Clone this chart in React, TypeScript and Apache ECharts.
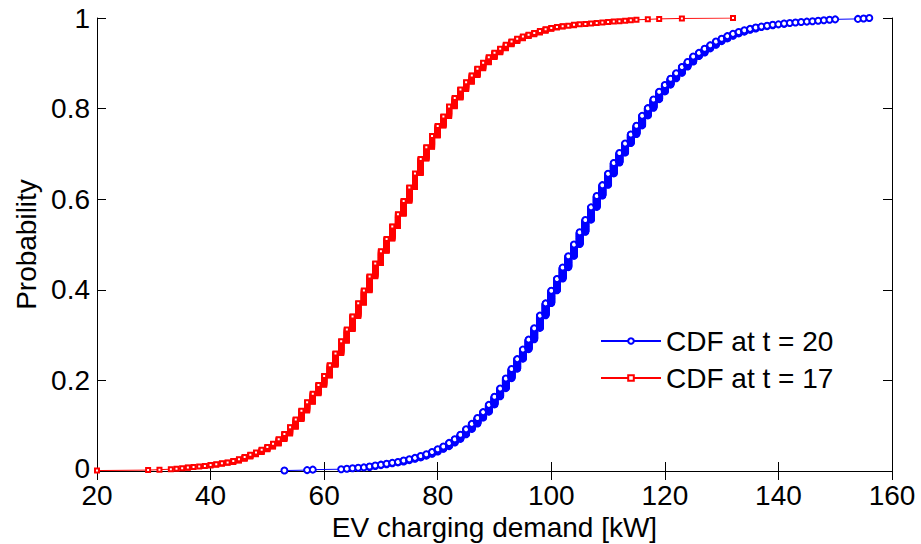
import React, { useEffect, useRef } from "react";
import * as echarts from "echarts";

// Axis ticks
const xTicks = [20, 40, 60, 80, 100, 120, 140, 160];
const yTicks = [0, 0.2, 0.4, 0.6, 0.8, 1];

// CDF at t = 17 : number of samples at each demand level [kW]
const redX = [
  20, 29, 31, 33, 34, 35, 36, 37, 38, 39, 40, 41, 42, 43, 44, 45, 46, 47, 48, 49,
  50, 51, 52, 53, 54, 55, 56, 57, 58, 59, 60, 61, 62, 63, 64, 65, 66, 67, 68, 69,
  70, 71, 72, 73, 74, 75, 76, 77, 78, 79, 80, 81, 82, 83, 84, 85, 86, 87, 88, 89,
  90, 91, 92, 93, 94, 95, 96, 97, 98, 99, 100, 101, 102, 103, 104, 105, 106, 107,
  108, 109, 110, 111, 112, 113, 114, 115, 117, 119, 123, 132,
];
const redCount = [
  1, 1, 1, 1, 1, 1, 2, 1, 1, 1, 2, 2, 2, 2, 3, 4, 5, 5, 5, 6,
  6, 7, 10, 12, 15, 17, 19, 19, 19, 19, 20, 24, 26, 27, 26, 29, 29, 28, 31, 29,
  27, 27, 28, 27, 29, 30, 31, 32, 26, 25, 22, 21, 22, 19, 19, 16, 15, 15, 13, 12,
  10, 9, 9, 7, 6, 5, 4, 4, 4, 4, 3, 2, 2, 1, 2, 1, 1, 1,
  1, 1, 1, 1, 1, 1, 1, 1, 1, 1, 1, 1,
];

// CDF at t = 20 : number of samples at each demand level [kW]
const blueX = [
  53, 57, 58, 63, 64, 65, 66, 67, 68, 69, 70, 71, 72, 73, 74, 75, 76, 77, 78, 79,
  80, 81, 82, 83, 84, 85, 86, 87, 88, 89, 90, 91, 92, 93, 94, 95, 96, 97, 98, 99,
  100, 101, 102, 103, 104, 105, 106, 107, 108, 109, 110, 111, 112, 113, 114, 115,
  116, 117, 118, 119, 120, 121, 122, 123, 124, 125, 126, 127, 128, 129, 130, 131,
  132, 133, 134, 135, 136, 137, 138, 139, 140, 141, 142, 143, 144, 145, 146, 147,
  148, 149, 150, 154, 155, 156,
];
const blueCount = [
  1, 1, 1, 1, 1, 1, 1, 1, 2, 2, 2, 2, 2, 2, 3, 3, 3, 4, 4, 5,
  6, 6, 8, 8, 10, 12, 12, 13, 13, 16, 18, 18, 22, 21, 22, 21, 22, 25, 28, 27,
  28, 26, 25, 25, 26, 27, 27, 28, 25, 24, 25, 24, 22, 21, 20, 19,
  22, 17, 19, 17, 15, 14, 12, 14, 11, 12, 8, 9, 8, 8, 6, 6,
  5, 4, 4, 3, 3, 2, 2, 2, 1, 2, 1, 1, 1, 1, 1, 1,
  1, 1, 1, 1, 1, 1,
];

const seriesNames = ["CDF at t = 20", "CDF at t = 17"];

// empirical CDF: one point per sample, sorted
function ecdf(xs: number[], counts: number[]): number[][] {
  const total = counts.reduce((a, b) => a + b, 0);
  const pts: number[][] = [];
  let c = 0;
  xs.forEach((x, i) => {
    for (let j = 0; j < counts[i]; j++) {
      c += 1;
      pts.push([x, c / total]);
    }
  });
  return pts;
}

const FONT = "'Liberation Sans', Arial, Helvetica, sans-serif";

export default function App() {
  const ref = useRef<HTMLDivElement>(null);
  useEffect(() => {
    if (!ref.current) return;
    const chart = echarts.init(ref.current, undefined, { renderer: "svg" });
    const axisLine = { show: true, lineStyle: { color: "#000", width: 1 } };
    const tick = { show: true, inside: true, length: 9, lineStyle: { color: "#000", width: 1 } };
    const xCommon = {
      type: "value" as const,
      min: xTicks[0],
      max: xTicks[xTicks.length - 1],
      interval: xTicks[1] - xTicks[0],
      splitLine: { show: false },
      axisLine,
      axisTick: tick,
    };
    const yCommon = {
      type: "value" as const,
      min: yTicks[0],
      max: yTicks[yTicks.length - 1],
      interval: yTicks[1] - yTicks[0],
      splitLine: { show: false },
      axisLine,
      axisTick: tick,
    };
    chart.setOption({
      animation: false,
      backgroundColor: "#fff",
      textStyle: { fontFamily: FONT },
      grid: { left: 97, right: 29, top: 18, bottom: 73, containLabel: false, outerBoundsMode: "none" },
      xAxis: [
        {
          ...xCommon,
          position: "bottom",
          name: "EV charging demand [kW]",
          nameLocation: "middle",
          nameGap: 41,
          nameTextStyle: { fontSize: 28, color: "#000", fontFamily: FONT },
          axisLabel: { fontSize: 28, lineHeight: 20, color: "#000", margin: 14, fontFamily: FONT },
        },
        {
          ...xCommon,
          position: "top",
          axisLabel: { show: false },
        },
      ],
      yAxis: [
        {
          ...yCommon,
          position: "left",
          name: "Probability",
          nameLocation: "middle",
          nameGap: 57,
          nameTextStyle: { fontSize: 28, color: "#000", fontFamily: FONT },
          axisLabel: {
            fontSize: 28,
            lineHeight: 20,
            color: "#000",
            margin: 7,
            fontFamily: FONT,
            formatter: (v: number) => (v === 0 ? "{z|0}" : String(v)),
            rich: {
              z: { fontSize: 28, lineHeight: 20, color: "#000", fontFamily: FONT, padding: [0, 0, 6, 0] },
            },
          },
        },
        {
          ...yCommon,
          position: "right",
          axisLabel: { show: false },
        },
      ],
      legend: {
        orient: "vertical",
        left: 595,
        top: 322,
        itemWidth: 60,
        itemHeight: 7,
        itemGap: 9,
        data: seriesNames,
        textStyle: { fontSize: 28, color: "#000", fontFamily: FONT, lineHeight: 28 },
      },
      series: [
        {
          name: seriesNames[0],
          type: "line",
          data: ecdf(blueX, blueCount),
          symbol: "emptyCircle",
          symbolSize: 6,
          color: "#0000ff",
          lineStyle: { color: "#0000ff", width: 1 },
          itemStyle: { color: "#0000ff", borderColor: "#0000ff", borderWidth: 1 },
          silent: true,
          z: 2,
        },
        {
          name: seriesNames[1],
          type: "line",
          data: ecdf(redX, redCount),
          symbol: "emptyRect",
          symbolSize: 4,
          color: "#ff0000",
          lineStyle: { color: "#ff0000", width: 1 },
          itemStyle: { color: "#ff0000", borderColor: "#ff0000", borderWidth: 1 },
          silent: true,
          z: 3,
        },
      ],
    });
    return () => chart.dispose();
  }, []);
  return (
    <div
      ref={ref}
      style={{ position: "absolute", left: 0, top: 0, width: 921, height: 544, background: "#fff" }}
    />
  );
}
